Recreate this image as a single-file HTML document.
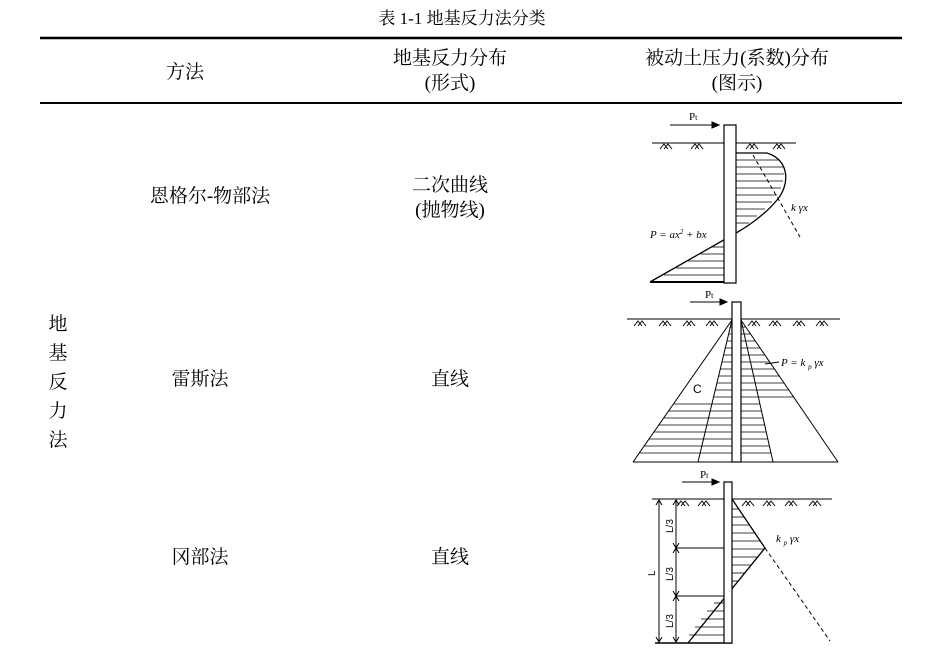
<!DOCTYPE html>
<html><head><meta charset="utf-8"><style>
body{margin:0;background:#fff;}
svg text{font-family:"Liberation Serif","Noto Serif CJK SC","Noto Sans CJK SC",serif;fill:#000;}
svg text.sans{font-family:"Liberation Sans",sans-serif;}
</style></head><body>
<svg width="925" height="667" viewBox="0 0 925 667" xmlns="http://www.w3.org/2000/svg">
<defs>
<g id="gs"><path d="M-6,5 L-2,0 L2,5 M-2,5 L2,0 L6,5" stroke="#000" stroke-width="1" fill="none"/></g>
</defs>
<text x="462" y="24" font-size="17" text-anchor="middle">表 1-1  地基反力法分类</text>
<line x1="40" y1="38" x2="902" y2="38" stroke="#000" stroke-width="2.5"/>
<line x1="40" y1="103" x2="902" y2="103" stroke="#000" stroke-width="2"/>
<g font-size="19" text-anchor="middle">
<text x="185" y="78">方法</text>
<text x="450" y="64">地基反力分布</text>
<text x="450" y="89">(形式)</text>
<text x="737" y="64">被动土压力(系数)分布</text>
<text x="737" y="89">(图示)</text>
<text x="210" y="202">恩格尔-物部法</text>
<text x="450" y="191">二次曲线</text>
<text x="450" y="216">(抛物线)</text>
<text x="200" y="385">雷斯法</text>
<text x="450" y="385">直线</text>
<text x="200" y="563">冈部法</text>
<text x="450" y="563">直线</text>
<text x="58" y="330">地</text>
<text x="58" y="359">基</text>
<text x="58" y="388">反</text>
<text x="58" y="417">力</text>
<text x="58" y="446">法</text>
</g>

<!-- Diagram 1 -->
<g stroke="#000" fill="none" stroke-width="1">
<line x1="652" y1="143" x2="724" y2="143"/><line x1="736" y1="143" x2="796" y2="143"/>
<use href="#gs" x="666" y="144"/><use href="#gs" x="697" y="144"/><use href="#gs" x="752" y="144"/><use href="#gs" x="779" y="144"/>
<line x1="670" y1="125" x2="716" y2="125"/><path d="M712,122 L719,125 L712,128Z" fill="#000"/>
<path d="M736,153 L767,153 C790,160 790,185 777,200 C765,215 745,228 736,233 L650,282" stroke-width="1.3"/>
<g stroke-width="0.8">
<line x1="736" y1="160" x2="780" y2="160"/><line x1="736" y1="167" x2="783" y2="167"/><line x1="736" y1="174" x2="784" y2="174"/><line x1="736" y1="181" x2="783" y2="181"/><line x1="736" y1="188" x2="781" y2="188"/><line x1="736" y1="195" x2="777" y2="195"/><line x1="736" y1="202" x2="772" y2="202"/><line x1="736" y1="209" x2="765" y2="209"/><line x1="736" y1="216" x2="757" y2="216"/><line x1="736" y1="223" x2="749" y2="223"/>
<line x1="712" y1="247" x2="724" y2="247"/><line x1="700" y1="254" x2="724" y2="254"/><line x1="688" y1="261" x2="724" y2="261"/><line x1="676" y1="268" x2="724" y2="268"/><line x1="664" y1="275" x2="724" y2="275"/>
</g>
<line x1="753" y1="155" x2="800" y2="237" stroke-dasharray="4,3"/>
<line x1="650" y1="282" x2="736" y2="282" stroke-width="2"/>
<rect x="724" y="125" width="12" height="158" fill="#fff" stroke-width="1.2"/>
</g>
<text x="689" y="120" font-size="11">P<tspan font-size="8">t</tspan></text>
<text x="791" y="211" font-size="11" font-style="italic">k γx</text>
<text x="650" y="238" font-size="11" font-style="italic">P = ax<tspan font-size="7" dy="-4">2</tspan><tspan dy="4"> + bx</tspan></text>

<!-- Diagram 2 -->
<g stroke="#000" fill="none" stroke-width="1">
<line x1="627" y1="319" x2="840" y2="319"/>
<use href="#gs" x="640" y="321"/><use href="#gs" x="665" y="321"/><use href="#gs" x="689" y="321"/><use href="#gs" x="712" y="321"/><use href="#gs" x="754" y="321"/><use href="#gs" x="775" y="321"/><use href="#gs" x="799" y="321"/><use href="#gs" x="822" y="321"/>
<line x1="690" y1="302" x2="723" y2="302"/><path d="M720,299 L727,302 L720,305Z" fill="#000"/>
<line x1="732" y1="320" x2="633" y2="462"/><line x1="732" y1="320" x2="698" y2="462"/>
<line x1="741" y1="320" x2="773" y2="462"/><line x1="741" y1="320" x2="838" y2="462"/>
<line x1="633" y1="462" x2="838" y2="462"/>
<g stroke-width="0.8">
<line x1="730.3" y1="327" x2="745.8" y2="327"/>
<line x1="728.6" y1="334" x2="750.6" y2="334"/>
<line x1="727" y1="341" x2="755.3" y2="341"/>
<line x1="725.3" y1="348" x2="760.1" y2="348"/>
<line x1="723.6" y1="355" x2="764.9" y2="355"/>
<line x1="721.9" y1="362" x2="769.7" y2="362"/>
<line x1="720.3" y1="369" x2="774.5" y2="369"/>
<line x1="718.6" y1="376" x2="779.2" y2="376"/>
<line x1="716.9" y1="383" x2="784" y2="383"/>
<line x1="715.2" y1="390" x2="788.8" y2="390"/>
<line x1="713.6" y1="397" x2="793.6" y2="397"/>
<line x1="673.4" y1="404" x2="759.9" y2="404"/>
<line x1="668.5" y1="411" x2="761.5" y2="411"/>
<line x1="663.7" y1="418" x2="763.1" y2="418"/>
<line x1="658.8" y1="425" x2="764.7" y2="425"/>
<line x1="653.9" y1="432" x2="766.2" y2="432"/>
<line x1="649" y1="439" x2="767.8" y2="439"/>
<line x1="644.2" y1="446" x2="769.4" y2="446"/>
<line x1="639.3" y1="453" x2="771" y2="453"/>
</g>
<line x1="765" y1="364" x2="779" y2="362"/>
<rect x="732" y="302" width="9" height="160" fill="#fff" stroke-width="1.2"/>
</g>
<text x="705" y="298" font-size="11">P<tspan font-size="8">t</tspan></text>
<text class="sans" x="693" y="393" font-size="12">C</text>
<text x="781" y="366" font-size="11" font-style="italic">P  =  k <tspan font-size="7" dy="3">p</tspan><tspan dy="-3"> γx</tspan></text>

<!-- Diagram 3 -->
<g stroke="#000" fill="none" stroke-width="1">
<line x1="652" y1="499" x2="832" y2="499"/>
<use href="#gs" x="683" y="501"/><use href="#gs" x="704" y="501"/><use href="#gs" x="748" y="501"/><use href="#gs" x="769" y="501"/><use href="#gs" x="791" y="501"/><use href="#gs" x="815" y="501"/>
<line x1="682" y1="482" x2="715" y2="482"/><path d="M712,479 L719,482 L712,485Z" fill="#000"/>
<line x1="655" y1="643" x2="732" y2="643" stroke-width="1.5"/>
<path d="M732,499 L765,548 L688,643" stroke-width="1.3"/>
<line x1="765" y1="548" x2="830" y2="641" stroke-dasharray="4,3"/>
<g stroke-width="0.8">
<line x1="732" y1="509" x2="739" y2="509"/><line x1="732" y1="517" x2="744" y2="517"/><line x1="732" y1="525" x2="749" y2="525"/><line x1="732" y1="533" x2="755" y2="533"/><line x1="732" y1="541" x2="760" y2="541"/><line x1="732" y1="549" x2="764" y2="549"/><line x1="732" y1="557" x2="758" y2="557"/><line x1="732" y1="565" x2="751" y2="565"/><line x1="732" y1="573" x2="745" y2="573"/><line x1="732" y1="581" x2="738" y2="581"/>
<line x1="714" y1="603" x2="724" y2="603"/><line x1="707" y1="611" x2="724" y2="611"/><line x1="701" y1="619" x2="724" y2="619"/><line x1="695" y1="627" x2="724" y2="627"/><line x1="689" y1="635" x2="724" y2="635"/>
</g>
<line x1="659" y1="500" x2="659" y2="642"/><path d="M656,505 L659,500 L662,505 M656,637 L659,642 L662,637"/>
<line x1="676" y1="500" x2="676" y2="642"/>
<path d="M673,505 L676,500 L679,505 M673,543 L676,548 L679,543 M673,553 L676,548 L679,553 M673,591 L676,596 L679,591 M673,601 L676,596 L679,601 M673,637 L676,642 L679,637"/>
<line x1="676" y1="548" x2="724" y2="548"/><line x1="676" y1="596" x2="724" y2="596"/>
<rect x="724" y="482" width="8" height="161" fill="#fff" stroke-width="1.2"/>
</g>
<text x="700" y="478" font-size="11">P<tspan font-size="8">t</tspan></text>
<text x="776" y="542" font-size="11" font-style="italic">k <tspan font-size="7" dy="3">p</tspan><tspan dy="-3"> γx</tspan></text>
<text class="sans" font-size="10" transform="translate(655,576) rotate(-90)">L</text>
<text class="sans" font-size="10" transform="translate(673,533) rotate(-90)">L/3</text>
<text class="sans" font-size="10" transform="translate(673,581) rotate(-90)">L/3</text>
<text class="sans" font-size="10" transform="translate(673,628) rotate(-90)">L/3</text>
</svg>
</body></html>
